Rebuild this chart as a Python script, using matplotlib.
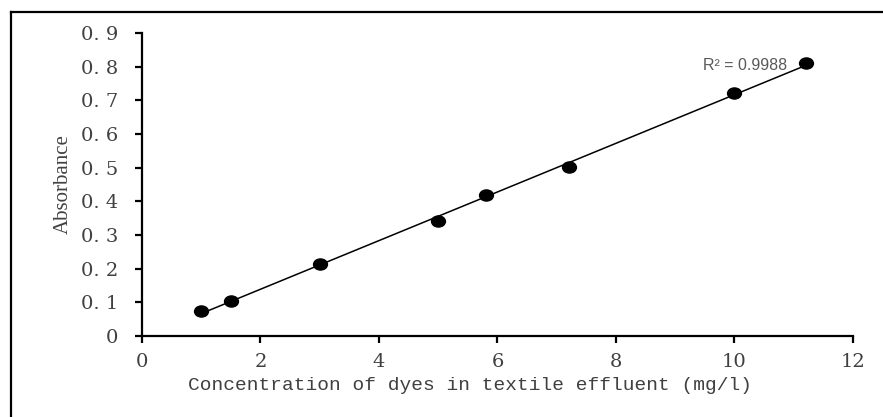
import matplotlib
matplotlib.use("Agg")
import matplotlib.pyplot as plt
import matplotlib.path as mpath
from matplotlib.transforms import Affine2D
from matplotlib.lines import Line2D
import numpy as np

# data
conc = [1.0, 1.5, 3.0, 5.0, 5.8, 7.2, 10.0, 11.2]
absorb = [0.074, 0.104, 0.214, 0.342, 0.418, 0.501, 0.722, 0.810]
r2_text = "R² = 0.9988"

x_ticks = [0, 2, 4, 6, 8, 10, 12]
y_ticks = [0, 0.1, 0.2, 0.3, 0.4, 0.5, 0.6, 0.7, 0.8, 0.9]
y_ticklabels = ["0", "0. 1", "0. 2", "0. 3", "0. 4", "0. 5", "0. 6", "0. 7", "0. 8", "0. 9"]

fig = plt.figure(figsize=(8.83, 4.17), dpi=100)
ax = fig.add_axes([0.1608, 0.1942, 0.8052, 0.7266])

# outer frame (top and left edges only visible)
fig.add_artist(Line2D([0.0125, 0.0125], [0.0, 0.971], transform=fig.transFigure, color="black", lw=1.6))
fig.add_artist(Line2D([0.0125, 1.0], [0.971, 0.971], transform=fig.transFigure, color="black", lw=1.6))

# linear trend line over the data range
slope, intercept = np.polyfit(conc, absorb, 1)
xs = np.array([min(conc), max(conc)])
ax.plot(xs, slope * xs + intercept, color="black", lw=1.1, zorder=2)

oval = mpath.Path.unit_circle().transformed(Affine2D().scale(1.25, 1.0))
ax.plot(conc, absorb, linestyle="none", marker=oval, markersize=10, color="black", zorder=3)

ax.text(10.18, 0.805, r2_text, ha="center", va="center", fontsize=11.5,
        family="Liberation Sans", color="#595959")

ax.set_xlim(0, 12)
ax.set_ylim(0, 0.9)
ax.set_xticks(x_ticks)
ax.set_xticklabels([str(t) for t in x_ticks], family="DejaVu Serif", fontsize=14, color="#404040")
ax.set_yticks(y_ticks)
ax.set_yticklabels(y_ticklabels, family="DejaVu Serif", fontsize=14, color="#404040")

for side in ["top", "right"]:
    ax.spines[side].set_visible(False)
for side in ["left", "bottom"]:
    ax.spines[side].set_linewidth(1.6)
ax.tick_params(axis="both", direction="out", length=5, width=1.6, color="black")
ax.tick_params(axis="y", pad=12)
ax.tick_params(axis="x", pad=7)

ax.set_xlabel("Concentration of dyes in textile effluent (mg/l)", family="Liberation Mono",
              fontsize=14, color="#404040")
ax.xaxis.set_label_coords(0.461, -0.135)
ax.set_ylabel("Absorbance", family="Liberation Serif", fontsize=15, color="#404040")
ax.yaxis.set_label_coords(-0.098, 0.5)

fig.savefig("out.png", dpi=100)
